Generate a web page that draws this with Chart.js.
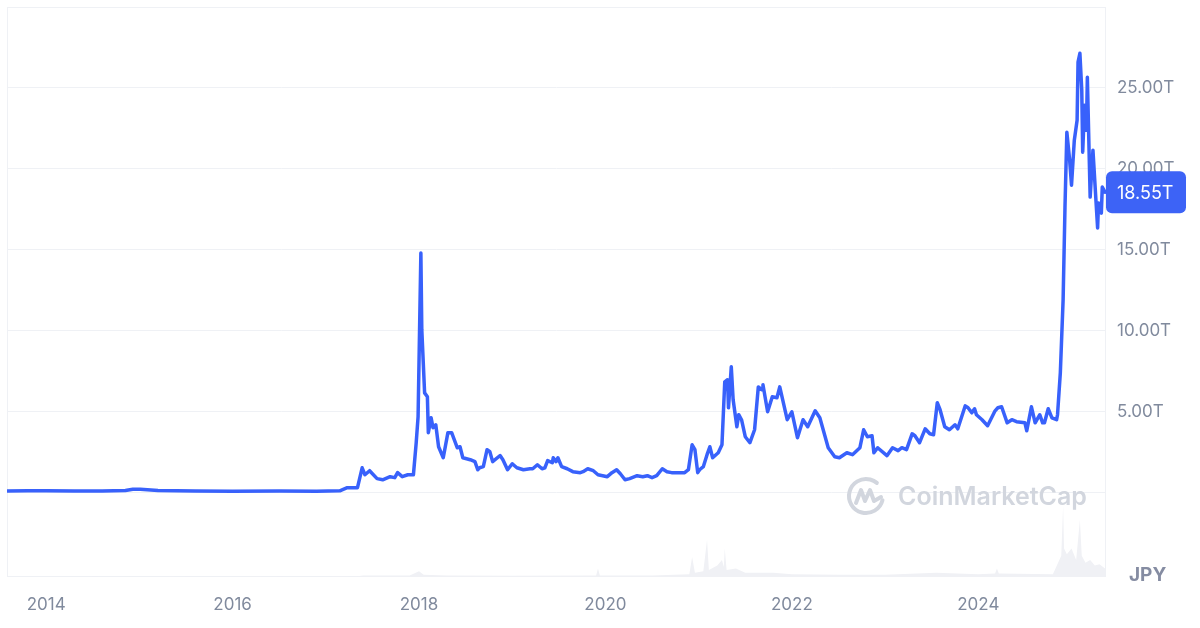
<!DOCTYPE html>
<html>
<head>
<meta charset="utf-8">
<style>
html,body{margin:0;padding:0;background:#ffffff;}
#wrap{width:1200px;height:628px;position:relative;}
</style>
<script src="https://cdn.jsdelivr.net/npm/chart.js@4.4.1/dist/chart.umd.min.js"></script>
</head>
<body>
<div id="wrap"><canvas id="c" width="1200" height="628"></canvas></div>
<script>
// Market cap (JPY trillions) by decimal year
const years = [
2013.58,2013.80,2014.00,2014.30,2014.60,2014.85,2014.93,2015.01,2015.20,2015.60,2016.00,2016.50,2016.90,2017.15,2017.23,2017.34,
2017.39,2017.42,2017.47,2017.55,2017.61,2017.69,2017.74,2017.77,2017.82,2017.88,2017.94,2017.97,2017.99,2018.02,2018.03,2018.06,
2018.09,2018.10,2018.13,2018.15,2018.18,2018.21,2018.26,2018.31,2018.35,2018.41,2018.44,2018.47,2018.55,2018.60,2018.63,2018.65,
2018.69,2018.73,2018.76,2018.79,2018.87,2018.90,2018.95,2019.00,2019.05,2019.12,2019.19,2019.22,2019.27,2019.32,2019.35,2019.38,
2019.43,2019.44,2019.47,2019.49,2019.53,2019.59,2019.65,2019.73,2019.76,2019.81,2019.87,2019.92,2019.97,2020.02,2020.07,2020.12,
2020.16,2020.21,2020.26,2020.34,2020.40,2020.45,2020.50,2020.55,2020.61,2020.66,2020.71,2020.78,2020.85,2020.89,2020.93,2020.96,
2020.99,2021.01,2021.05,2021.09,2021.12,2021.15,2021.21,2021.25,2021.28,2021.31,2021.32,2021.35,2021.37,2021.41,2021.43,2021.46,
2021.50,2021.55,2021.60,2021.64,2021.68,2021.69,2021.74,2021.79,2021.84,2021.87,2021.95,2022.00,2022.06,2022.12,2022.17,2022.25,
2022.30,2022.39,2022.46,2022.51,2022.59,2022.65,2022.73,2022.77,2022.81,2022.86,2022.88,2022.92,2023.02,2023.08,2023.14,2023.18,
2023.23,2023.29,2023.32,2023.37,2023.43,2023.48,2023.52,2023.56,2023.59,2023.64,2023.69,2023.75,2023.78,2023.86,2023.89,2023.93,
2023.96,2023.98,2024.04,2024.10,2024.18,2024.21,2024.25,2024.31,2024.36,2024.41,2024.50,2024.52,2024.57,2024.61,2024.66,2024.69,
2024.71,2024.75,2024.79,2024.84,2024.85,2024.88,2024.91,2024.93,2024.95,2024.98,2025.00,2025.03,2025.06,2025.07,2025.09,2025.11,
2025.12,2025.14,2025.16,2025.17,2025.20,2025.23,2025.26,2025.28,2025.29,2025.32,2025.33,2025.36
];
const caps = [
0.08,0.10,0.10,0.09,0.08,0.12,0.19,0.19,0.12,0.09,0.07,0.08,0.07,0.10,0.29,0.29,
1.52,1.09,1.34,0.85,0.78,0.97,0.91,1.22,0.97,1.09,1.09,3.07,4.67,14.80,10.04,6.15,
5.91,3.69,4.61,4.00,4.18,2.82,2.14,3.69,3.69,2.76,2.82,2.14,2.02,1.90,1.40,1.52,
1.59,2.64,2.51,1.90,2.28,2.02,1.40,1.77,1.52,1.40,1.46,1.46,1.71,1.46,1.52,1.96,
1.83,2.14,1.90,2.14,1.59,1.46,1.28,1.22,1.28,1.46,1.34,1.09,1.03,0.97,1.22,1.40,
1.15,0.78,0.85,1.03,0.97,1.03,0.91,1.03,1.46,1.28,1.22,1.22,1.22,1.40,2.94,2.64,
1.22,1.40,1.59,2.33,2.82,2.14,2.45,2.94,6.83,6.96,5.23,7.76,5.72,4.06,4.80,4.49,
3.44,3.07,3.87,6.52,6.34,6.65,4.98,5.91,5.85,6.52,4.49,4.98,3.38,4.49,4.06,5.04,
4.61,2.76,2.20,2.14,2.45,2.33,2.76,3.87,3.44,3.50,2.45,2.76,2.27,2.76,2.58,2.76,
2.64,3.62,3.50,3.07,3.93,3.62,3.56,5.54,5.11,4.06,3.87,4.18,3.93,5.35,5.23,4.92,
5.17,4.80,4.49,4.12,5.04,5.23,5.29,4.30,4.49,4.37,4.30,3.81,5.29,4.30,4.80,4.30,
4.30,5.17,4.61,4.49,4.80,7.39,11.91,17.62,22.26,20.54,18.99,21.77,23.00,26.59,27.14,24.86,
21.03,23.93,22.38,25.66,18.25,21.15,18.25,16.34,17.88,17.26,18.87,18.55
];
// Trading volume (JPY trillions), faint area at the bottom
const volYears = [
2013.58,2017.30,2017.40,2017.90,2018.00,2018.05,2018.30,2019.00,2019.90,2019.92,2019.94,2020.50,2020.90,2020.93,2020.96,2021.05,
2021.09,2021.11,2021.20,2021.25,2021.27,2021.28,2021.30,2021.40,2021.50,2021.80,2022.00,2022.50,2023.00,2023.55,2024.00,2024.18,
2024.20,2024.22,2024.80,2024.89,2024.91,2024.92,2024.95,2025.00,2025.05,2025.09,2025.11,2025.15,2025.20,2025.25,2025.30,2025.36
];
const volumes = [
0.00,0.02,0.10,0.10,0.40,0.15,0.10,0.08,0.10,0.60,0.10,0.10,0.20,1.40,0.30,0.40,
2.60,0.50,0.80,1.20,0.70,2.00,0.50,0.60,0.30,0.30,0.20,0.15,0.15,0.30,0.20,0.25,
0.60,0.25,0.20,1.50,5.00,2.00,1.60,2.00,1.20,4.00,1.50,1.00,1.20,0.80,0.90,0.60
];
const xTickValues = [2014,2016,2018,2020,2022,2024];
const yTickValues = [0,5,10,15,20,25,30];
const lastValue = 18.55;
const lastLabel = '18.55T';
const currencyLabel = 'JPY';
const watermarkText = 'CoinMarketCap';

Chart.defaults.font.family = 'Inter, "Noto Sans", sans-serif';

const extras = {
  id: 'extras',
  beforeDatasetsDraw(chart) {
    const {ctx, chartArea: a} = chart;
    ctx.save();
    ctx.strokeStyle = '#eff1f5';
    ctx.lineWidth = 1;
    ctx.strokeRect(a.left + 0.5, a.top + 0.5, a.right - a.left - 1, a.bottom - a.top - 1);
    // watermark
    const cx = 866, cy = 496, r = 17;
    ctx.strokeStyle = '#d2d6de';
    ctx.lineWidth = 4;
    ctx.lineCap = 'round';
    ctx.lineJoin = 'round';
    ctx.beginPath();
    ctx.arc(cx, cy, r, 0.08 * Math.PI, 1.72 * Math.PI);
    ctx.stroke();
    ctx.beginPath();
    ctx.moveTo(cx - 10, cy + 7);
    ctx.lineTo(cx - 5, cy - 6);
    ctx.lineTo(cx - 1, cy + 5);
    ctx.lineTo(cx + 4, cy - 6);
    ctx.lineTo(cx + 8, cy + 5);
    ctx.lineTo(cx + 15, cy + 1);
    ctx.stroke();
    ctx.fillStyle = '#d2d6de';
    ctx.font = '600 25px Inter, sans-serif';
    ctx.textBaseline = 'middle';
    ctx.textAlign = 'left';
    ctx.fillText(watermarkText, 898, 497);
    ctx.restore();
  },
  afterDraw(chart) {
    const {ctx, chartArea: a} = chart;
    const y = chart.scales.y.getPixelForValue(lastValue);
    ctx.save();
    ctx.fillStyle = '#3d63f6';
    ctx.beginPath();
    ctx.roundRect(a.right, y - 21, 80, 42, 6);
    ctx.fill();
    ctx.fillStyle = '#ffffff';
    ctx.font = '18px Inter, sans-serif';
    ctx.textBaseline = 'middle';
    ctx.textAlign = 'left';
    ctx.fillText(lastLabel, a.right + 11, y + 1);
    ctx.fillStyle = '#858ca2';
    ctx.font = 'bold 19px Inter, sans-serif';
    ctx.fillText(currencyLabel, 1129, 575);
    ctx.restore();
  }
};

new Chart(document.getElementById('c'), {
  type: 'line',
  data: {
    datasets: [
      {
        label: 'Market Cap',
        data: years.map((x, i) => ({x: x, y: caps[i]})),
        yAxisID: 'y',
        borderColor: '#3861fb',
        borderWidth: 3.5,
        pointRadius: 0,
        tension: 0,
        fill: false,
        borderJoinStyle: 'round',
        borderCapStyle: 'round',
        order: 0
      },
      {
        label: 'Volume',
        data: volYears.map((x, i) => ({x: x, y: volumes[i]})),
        yAxisID: 'yv',
        borderWidth: 0,
        borderColor: 'rgba(0,0,0,0)',
        backgroundColor: '#f0f1f5',
        pointRadius: 0,
        tension: 0,
        fill: 'origin',
        order: 1
      }
    ]
  },
  options: {
    responsive: false,
    animation: false,
    layout: {padding: {left: 7, top: 7, right: 0, bottom: 0}},
    plugins: {legend: {display: false}, tooltip: {enabled: false}},
    scales: {
      x: {
        type: 'linear',
        min: 2013.58,
        max: 2025.37,
        position: 'bottom',
        grid: {display: false, drawTicks: false},
        border: {display: false},
        afterBuildTicks: s => { s.ticks = xTickValues.map(v => ({value: v})); },
        afterFit: s => { s.height = 51; s.paddingLeft = 0; s.paddingRight = 0; },
        ticks: {
          autoSkip: false,
          maxRotation: 0,
          padding: 18,
          color: '#808a9d',
          font: {size: 17},
          callback: v => String(v)
        }
      },
      y: {
        position: 'right',
        min: -5.23,
        max: 30,
        grid: {color: '#eff1f5', lineWidth: 1, drawTicks: false},
        border: {display: false},
        afterBuildTicks: s => { s.ticks = yTickValues.map(v => ({value: v})); },
        afterFit: s => { s.width = 94; s.paddingTop = 0; s.paddingBottom = 0; },
        ticks: {
          padding: 11,
          color: '#808a9d',
          font: {size: 17},
          callback: v => (v > 0 && v < 30) ? v.toFixed(2) + 'T' : ''
        }
      },
      yv: {
        display: false,
        min: 0,
        max: 40
      }
    }
  },
  plugins: [extras]
});
</script>
</body>
</html>
